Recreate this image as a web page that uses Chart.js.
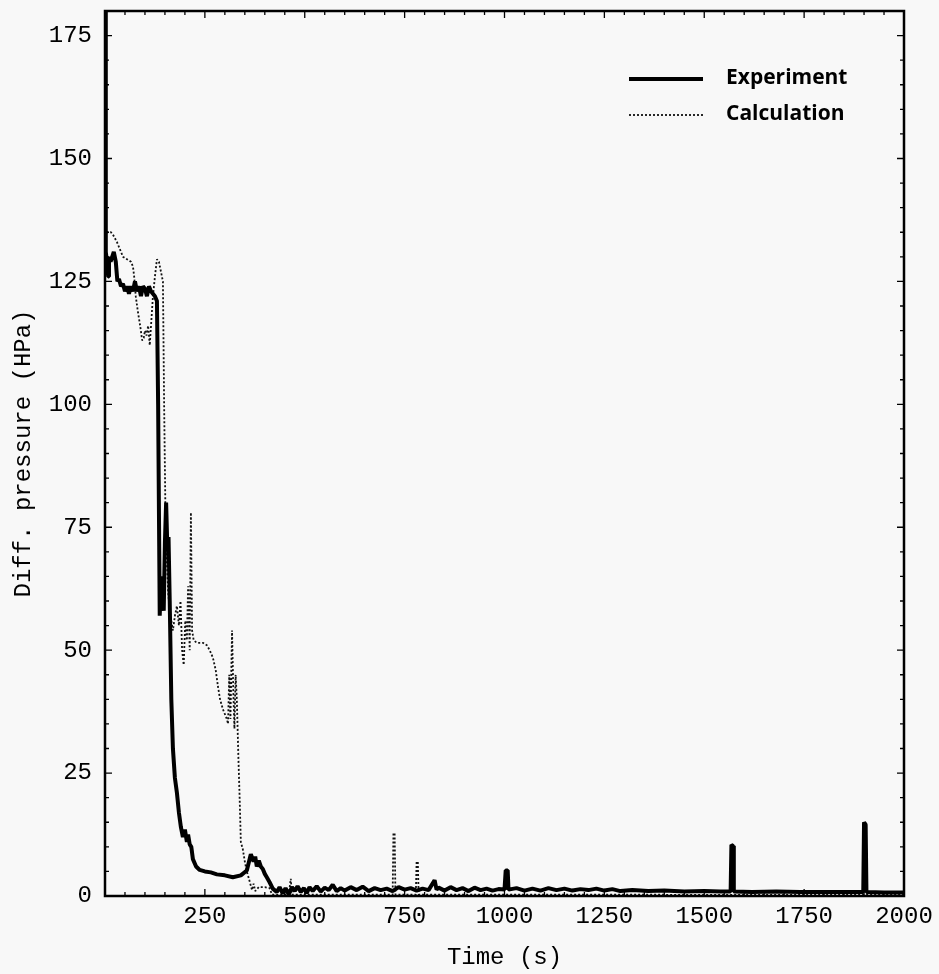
<!DOCTYPE html>
<html>
<head>
<meta charset="utf-8">
<script src="https://cdn.jsdelivr.net/npm/chart.js@4/dist/chart.umd.min.js"></script>
<style>
  html, body { margin: 0; padding: 0; background: #f8f8f8; }
</style>
</head>
<body>
<canvas id="myChart" width="939" height="974"></canvas>
<script>
"use strict";

// tick labels
const xTicks = [250, 500, 750, 1000, 1250, 1500, 1750, 2000],
  yTicks = [0, 25, 50, 75, 100, 125, 150, 175];

// Experiment (thick line), time in s / pressure in HPa
const expT = [0, 2, 5, 8, 10, 14, 18, 22, 27, 31, 35, 40, 45, 50, 55, 60, 65, 70, 75, 80,
  85, 90, 95, 100, 105, 110, 115, 120, 125, 130, 133, 137, 140, 143, 147, 150, 153, 156, 159, 162,
  166, 170, 175, 180, 185, 190, 195, 200, 205, 208, 212, 216, 220, 228, 237, 250, 265, 280, 300, 320,
  340, 355, 365, 372, 376, 380, 385, 390, 395, 400, 405, 412, 420, 430, 437, 445, 452, 460, 468, 475,
  482, 490, 498, 505, 512, 520, 530, 540, 550, 560, 570, 580, 590, 600, 615, 630, 645, 660, 675, 690,
  705, 720, 735, 750, 765, 780, 795, 810, 825, 830, 835, 850, 865, 880, 895, 910, 925, 940, 955, 970,
  985, 1000, 1003, 1008, 1010, 1030, 1050, 1070, 1090, 1110, 1130, 1150, 1170, 1190, 1210, 1230, 1250, 1270, 1290, 1320,
  1360, 1400, 1450, 1500, 1540, 1566, 1568, 1572, 1574, 1620, 1680, 1740, 1800, 1860, 1898, 1900, 1904, 1906, 1950, 2000];
const expP = [180, 131, 129, 126, 130, 129, 130, 131, 129, 125, 125.5, 124, 124.5, 123, 124, 122.5, 124, 123, 125, 123,
  124, 122, 124, 123.5, 122, 124, 123, 122.5, 122, 121, 100, 57, 65, 62, 58, 72, 80, 71, 73, 60,
  40, 30, 24, 21, 17, 14, 12, 13.5, 11, 12.5, 10.5, 10, 7.5, 6, 5.3, 5, 4.8, 4.4, 4.2, 3.8,
  4.2, 5.2, 8.5, 7, 8, 6, 7.2, 6, 5.5, 4.5, 3.8, 2.8, 1.5, 0.8, 1.8, 0.5, 1.6, 0.3, 1.8, 1,
  2, 0.8, 1.6, 0.6, 1.8, 1, 2, 0.9, 1.7, 1.2, 2.3, 1, 1.6, 1.1, 1.8, 1.2, 1.9, 1, 1.6, 1.2,
  1.5, 1, 1.8, 1.3, 1.6, 1.1, 1.5, 1.2, 3.2, 1.3, 1.7, 1.1, 1.8, 1.2, 1.6, 1, 1.7, 1.2, 1.5, 1.1,
  1.4, 1.3, 5.2, 5.2, 1.3, 1.6, 1.1, 1.5, 1.1, 1.6, 1.2, 1.5, 1.1, 1.4, 1.2, 1.5, 1.1, 1.4, 1, 1.2,
  1, 1.1, 0.9, 1, 0.9, 0.9, 10.4, 10.2, 0.9, 0.8, 0.9, 0.8, 0.8, 0.8, 0.8, 15, 14.5, 0.8, 0.7, 0.7];

// Calculation (dotted line)
const calcT = [3, 15, 20, 30, 40, 45, 55, 65, 70, 73, 77, 82, 88, 93, 97, 100, 104, 108, 112, 116,
  120, 125, 130, 135, 140, 145, 148, 151, 155, 158, 162, 166, 170, 175, 180, 185, 189, 193, 197, 201,
  205, 208, 212, 215, 218, 222, 230, 245, 255, 262, 270, 277, 283, 288, 295, 305, 308, 311, 314, 318,
  321, 324, 327, 330, 334, 337, 340, 345, 350, 355, 362, 368, 372, 376, 385, 400, 412, 418, 460, 465,
  468, 720, 722, 725, 727, 778, 780, 783, 785, 2000];
const calcP = [135, 135, 134.5, 133, 131, 130, 129.5, 129, 128, 126, 122, 119, 116, 113, 113.5, 115, 114, 116, 112, 117,
  122, 126, 129.5, 129, 127, 125, 100, 80, 68, 62, 58, 56, 54, 57, 59, 55, 60, 50, 47, 56,
  52, 63, 50, 78, 54, 52, 51.5, 51.5, 51, 50, 48.5, 46, 42.5, 40, 38, 36, 35, 45, 36, 54,
  42, 34, 45, 40, 28, 20, 11, 9.5, 7, 5, 3, 1.2, 2.5, 1, 1.8, 1.8, 1.6, 0.3, 0.3, 3.5,
  0.3, 0.3, 12.8, 12.8, 0.3, 0.3, 7, 7, 0.3, 0.2];

const monoFont = { family: "'Liberation Mono', 'Courier New', monospace", size: 24 };

// box round the plot + inward ticks on all four sides
const framePlugin = {
  id: "frame",
  afterDatasetsDraw(chart) {
    const { ctx, chartArea: a, scales: { x, y } } = chart;
    ctx.save();
    ctx.strokeStyle = "#000";
    ctx.lineWidth = 2.5;
    ctx.strokeRect(a.left, a.top, a.right - a.left, a.bottom - a.top);
    ctx.lineWidth = 1.3;
    ctx.beginPath();
    for (let v = 0; v <= 2000; v += 50) {
      const px = x.getPixelForValue(v),
        len = v % 250 === 0 ? 7 : 4;
      ctx.moveTo(px, a.bottom);
      ctx.lineTo(px, a.bottom - len);
      ctx.moveTo(px, a.top);
      ctx.lineTo(px, a.top + len);
    }
    for (let v = 0; v <= 180; v += 5) {
      const py = y.getPixelForValue(v),
        len = v % 25 === 0 ? 7 : 4;
      ctx.moveTo(a.left, py);
      ctx.lineTo(a.left + len, py);
      ctx.moveTo(a.right, py);
      ctx.lineTo(a.right - len, py);
    }
    ctx.stroke();
    ctx.restore();
  },
};

// legend in the top right corner, styled from the datasets
const legendPlugin = {
  id: "cornerLegend",
  afterDraw(chart) {
    const ctx = chart.ctx;
    ctx.save();
    ctx.font = "bold 21px 'Open Sans', sans-serif";
    ctx.fillStyle = "#000";
    ctx.textBaseline = "middle";
    chart.data.datasets.forEach((ds, i) => {
      const yy = 79 + i * 36;
      ctx.strokeStyle = ds.borderColor;
      ctx.lineWidth = ds.borderWidth;
      ctx.setLineDash(ds.borderDash || []);
      ctx.beginPath();
      ctx.moveTo(629, yy);
      ctx.lineTo(703, yy);
      ctx.stroke();
      ctx.fillText(ds.label, 726, yy - 1);
    });
    ctx.restore();
  },
};

new Chart(document.getElementById("myChart"), {
  type: "line",
  data: {
    datasets: [
      {
        label: "Experiment",
        data: expT.map((t, i) => ({ x: t, y: expP[i] })),
        borderColor: "#000",
        borderWidth: 4,
        borderDash: [],
        borderJoinStyle: "bevel",
      },
      {
        label: "Calculation",
        data: calcT.map((t, i) => ({ x: t, y: calcP[i] })),
        borderColor: "#111",
        borderWidth: 1.8,
        borderDash: [2, 2],
        borderJoinStyle: "bevel",
      },
    ],
  },
  options: {
    responsive: false,
    animation: false,
    layout: { padding: { left: 0, right: 35, top: 11, bottom: 0 } },
    elements: { point: { radius: 0 }, line: { tension: 0 } },
    plugins: { legend: { display: false }, tooltip: { enabled: false } },
    scales: {
      x: {
        type: "linear",
        min: 0,
        max: 2000,
        grid: { display: false, drawTicks: false },
        border: { display: false },
        afterBuildTicks: (s) => { s.ticks = xTicks.map((v) => ({ value: v })); },
        afterFit: (s) => { s.height = 78; s.paddingLeft = 0; s.paddingRight = 0; },
        ticks: { font: monoFont, color: "#000", padding: 6, maxRotation: 0, autoSkip: false, callback: (v) => String(v) },
        title: { display: true, text: "Time (s)", font: monoFont, color: "#000", padding: { top: 0, bottom: 2 } },
      },
      y: {
        min: 0,
        max: 180,
        grid: { display: false, drawTicks: false },
        border: { display: false },
        afterBuildTicks: (s) => { s.ticks = yTicks.map((v) => ({ value: v })); },
        afterFit: (s) => { s.width = 105; s.paddingTop = 0; s.paddingBottom = 0; },
        ticks: { font: monoFont, color: "#000", padding: 13, autoSkip: false, callback: (v) => String(v) },
        title: { display: true, text: "Diff. pressure (HPa)", font: monoFont, color: "#000", padding: { top: 9, bottom: 0 } },
      },
    },
  },
  plugins: [framePlugin, legendPlugin],
});
</script>
</body>
</html>
